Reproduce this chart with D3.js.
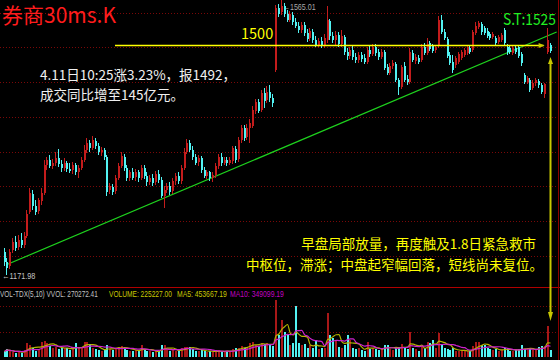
<!DOCTYPE html>
<html>
<head>
<meta charset="utf-8">
<script src="https://cdn.jsdelivr.net/npm/d3@7"></script>
<style>
    body { margin: 0; background: #000; }
    svg { display: block; }
    text { font-family: "Noto Sans CJK SC", "Noto Sans", sans-serif; }
</style>
</head>
<body>
<div id="k-chart"></div>
<script>
// 30 minute candles, oldest first (last two are 4.11 morning)
const opens = [1204,1190,1184,1207,1219,1211,1221,1214,1227,1261,
    1287,1270,1263,1277,1289,1329,1336,1327,1331,1339,
    1330,1324,1331,1323,1321,1329,1319,1324,1336,1350,
    1360,1353,1363,1356,1347,1350,1340,1293,1297,1291,
    1310,1327,1340,1324,1310,1319,1311,1319,1310,1324,
    1313,1304,1310,1304,1316,1307,1284,1293,1299,1291,
    1306,1313,1306,1324,1347,1360,1350,1340,1333,1339,
    1321,1313,1319,1310,1314,1327,1340,1331,1336,1331,
    1334,1351,1337,1364,1381,1369,1381,1384,1406,1419,
    1407,1431,1421,1433,1424,1464,1553,1547,1556,1544,
    1536,1543,1533,1527,1521,1529,1517,1510,1519,1507,
    1500,1506,1499,1507,1534,1513,1507,1514,1501,1511,
    1490,1484,1493,1483,1479,1486,1481,1476,1493,1487,
    1497,1490,1483,1490,1469,1460,1470,1473,1450,1440,
    1470,1451,1447,1489,1477,1481,1479,1497,1489,1503,
    1499,1493,1499,1536,1519,1509,1486,1476,1471,1476,
    1481,1486,1489,1496,1493,1517,1526,1530,1524,1520,
    1516,1511,1510,1504,1507,1521,1497,1496,1489,1496,
    1497,1487,1457,1447,1450,1439,1446,1449,1443,1430,
    1490,1500];
const highs = [1210,1196,1209,1224,1227,1229,1231,1233,1264,1296,
    1293,1279,1281,1296,1336,1340,1343,1337,1347,1351,
    1336,1339,1334,1331,1333,1331,1329,1340,1357,1367,
    1364,1370,1367,1360,1354,1353,1343,1303,1301,1314,
    1331,1347,1344,1329,1321,1324,1323,1321,1329,1329,
    1319,1314,1316,1320,1321,1311,1299,1303,1304,1310,
    1317,1319,1329,1353,1366,1364,1356,1344,1343,1341,
    1326,1321,1320,1319,1331,1344,1346,1340,1340,1340,
    1356,1356,1369,1386,1386,1387,1394,1413,1423,1423,
    1436,1439,1441,1443,1430,1557,1559,1565.01,1560,1550,
    1549,1547,1539,1533,1533,1533,1523,1524,1523,1513,
    1510,1511,1516,1556,1537,1519,1520,1519,1521,1514,
    1496,1497,1499,1489,1490,1490,1487,1497,1500,1501,
    1501,1494,1494,1493,1473,1474,1479,1476,1453,1471,
    1476,1457,1496,1493,1487,1486,1501,1503,1510,1506,
    1501,1500,1541,1543,1523,1511,1490,1486,1484,1490,
    1493,1496,1500,1499,1521,1533,1534,1533,1527,1524,
    1519,1519,1513,1514,1517,1524,1501,1499,1499,1499,
    1500,1490,1460,1456,1453,1450,1453,1451,1446,1446,
    1524,1503];
const lows = [1184,1171.98,1180,1203,1206,1207,1210,1210,1224,1259,
    1264,1257,1259,1271,1286,1321,1324,1323,1327,1326,
    1319,1320,1319,1317,1316,1314,1310,1321,1333,1346,
    1347,1350,1351,1343,1341,1336,1284,1287,1286,1287,
    1307,1324,1320,1306,1306,1307,1306,1304,1307,1309,
    1299,1300,1299,1300,1303,1281,1267,1289,1286,1287,
    1300,1301,1301,1321,1344,1347,1336,1329,1327,1317,
    1310,1309,1306,1304,1310,1323,1327,1329,1327,1329,
    1330,1331,1333,1360,1363,1364,1360,1381,1401,1403,
    1404,1410,1417,1419,1411,1461,1540,1543,1540,1533,
    1533,1529,1524,1517,1517,1513,1504,1506,1503,1497,
    1497,1496,1496,1503,1507,1503,1499,1497,1497,1486,
    1479,1480,1479,1474,1474,1476,1473,1473,1483,1484,
    1484,1479,1480,1464,1457,1457,1466,1447,1429,1437,
    1447,1443,1444,1476,1473,1473,1476,1486,1486,1491,
    1489,1489,1496,1516,1507,1481,1471,1460,1467,1473,
    1479,1483,1486,1487,1490,1514,1523,1514,1514,1510,
    1507,1509,1500,1501,1504,1500,1486,1487,1486,1487,
    1481,1470,1444,1444,1433,1436,1441,1439,1430,1424,
    1487,1489];
const closes = [1190,1181,1204,1219,1210,1221,1214,1227,1259,1289,
    1270,1261,1279,1289,1329,1336,1327,1331,1339,1330,
    1324,1331,1323,1320,1329,1319,1324,1336,1350,1360,
    1353,1364,1356,1347,1350,1340,1290,1299,1290,1310,
    1327,1341,1324,1310,1319,1310,1319,1310,1324,1313,
    1304,1310,1303,1316,1307,1284,1293,1299,1290,1306,
    1313,1306,1324,1347,1360,1350,1340,1331,1339,1321,
    1313,1319,1310,1314,1327,1340,1331,1336,1331,1336,
    1353,1336,1364,1381,1367,1381,1389,1407,1419,1406,
    1431,1420,1433,1424,1417,1553,1544,1556,1544,1536,
    1544,1533,1527,1521,1529,1517,1509,1520,1507,1500,
    1506,1499,1510,1536,1513,1507,1514,1501,1513,1490,
    1484,1493,1483,1479,1486,1480,1476,1493,1487,1497,
    1489,1483,1490,1467,1460,1470,1474,1450,1440,1469,
    1450,1447,1490,1479,1483,1476,1497,1489,1501,1494,
    1491,1497,1536,1519,1510,1484,1474,1464,1481,1487,
    1490,1493,1497,1490,1519,1527,1531,1519,1517,1513,
    1510,1516,1503,1511,1514,1503,1490,1490,1496,1490,
    1484,1474,1447,1453,1436,1446,1450,1443,1433,1445,
    1507,1492];
// volume, thousands of lots
const volumes = [180,260,200,150,120,190,140,220,450,390,
    300,200,260,485,520,450,360,300,330,260,
    290,280,300,220,260,450,280,330,485,470,
    420,300,250,220,200,230,390,260,240,300,
    320,350,300,220,180,200,230,200,390,220,
    200,180,160,200,180,390,400,250,200,220,
    200,180,300,330,320,330,250,200,180,230,
    200,160,180,150,200,220,180,160,200,180,
    250,290,300,350,300,330,450,480,400,350,
    450,420,450,380,350,1840,700,1200,810,710,
    400,450,1650,450,380,420,300,390,300,550,
    260,280,300,1420,710,620,550,330,290,400,
    710,550,300,250,280,220,200,480,250,300,
    250,220,250,400,380,250,220,300,330,420,
    300,250,810,300,250,200,350,300,480,450,
    550,300,780,390,300,250,220,280,200,180,
    200,220,200,180,350,480,480,390,400,300,
    250,220,250,200,220,300,280,200,180,220,
    250,390,260,230,270,220,243,330,360,353,
    1000,225.2];

const priceGrid = [1546, 1496.5, 1447, 1397.5, 1347.5, 1298, 1248, 1198.5];
const volumeGrid = [809, 1650];
const refLevel = 1500;
// support line: [candle index, price]
const trendPoints = [[1, 1186], [193.5, 1518.6]];
const maPeriods = [5, 10];
const volumeLabels = ["VOL-TDX(5,10) VVOL: 270272.41", "VOLUME: 225227.00", "MA5: 453667.19", "MA10: 349099.19"];
const noteWhite = ["4.11日10:25涨3.23%，报1492，", "成交同比增至145亿元。"];
const noteYellow = ["早盘局部放量，再度触及1.8日紧急救市", "中枢位，滞涨；中盘起窄幅回落，短线尚未复位。"];

const UP = "#c41c1c", DOWN = "#52f2f2";

/**
 * squeezes a text horizontally so it takes the given width
 */
function fitWidth(sel, width) {
    sel.each(function () {
        let t = d3.select(this);
        let x = +t.attr("x"), y = +t.attr("y");
        let w = typeof width === "function" ? width(t.datum(), t.attr("data-i")) : width;
        let s = w / this.getComputedTextLength();
        t.attr("x", 0).attr("y", 0)
         .attr("transform", `translate(${x},${y}) scale(${s},1)`);
    });
}

class KLineChart {

    constructor() {
        this.n = opens.length;
        this.x = d3.scaleLinear().domain([0, this.n - 1]).range([3.5, 549.5]);
        this.y = d3.scaleLinear().domain([1171.4, 1564.3]).range([275, 0]);
        this.yVol = d3.scaleLinear().domain([0, 2200]).range([357, 289]);
        this.svg = d3.select("#k-chart").append("svg")
            .attr("width", 560)
            .attr("height", 360)
            .style("background", "#000");
    }

    // moving average of volume; uses what is available at the start
    movingAverage(period) {
        return volumes.map((v, i) => d3.mean(volumes.slice(Math.max(0, i - period + 1), i + 1)));
    }

    drawFrame() {
        let svg = this.svg;
        let g = svg.append("g").attr("shape-rendering", "crispEdges");

        g.selectAll("line.pgrid")
            .data(priceGrid)
            .join("line")
            .attr("x1", 0).attr("x2", 558)
            .attr("y1", d => Math.round(this.y(d)) + 0.5)
            .attr("y2", d => Math.round(this.y(d)) + 0.5)
            .attr("stroke", "#7a0808")
            .attr("stroke-dasharray", "1,2");

        g.selectAll("line.vgrid")
            .data(volumeGrid)
            .join("line")
            .attr("x1", 0).attr("x2", 558)
            .attr("y1", d => Math.round(this.yVol(d)) + 0.5)
            .attr("y2", d => Math.round(this.yVol(d)) + 0.5)
            .attr("stroke", "#7a0808")
            .attr("stroke-dasharray", "1,2");

        // panel divider and right border
        g.append("line").attr("x1", 0).attr("x2", 560).attr("y1", 287.5).attr("y2", 287.5)
            .attr("stroke", "#b00000");
        g.append("line").attr("x1", 558.5).attr("x2", 558.5).attr("y1", 0).attr("y2", 360)
            .attr("stroke", "#8a0000");
    }

    drawPrice() {
        let svg = this.svg;
        let data = d3.range(this.n).map(i => ({
            i: i, o: opens[i], h: highs[i], l: lows[i], c: closes[i]
        }));

        // extreme labels sit behind the candles
        let lowIdx = d3.minIndex(lows), highIdx = d3.maxIndex(highs);
        svg.append("text")
            .attr("x", this.x(lowIdx) - 4).attr("y", this.y(lows[lowIdx]) + 4)
            .attr("fill", "#c4c4c4").attr("font-size", 9)
            .style("font-family", "'Liberation Sans', Arial, sans-serif")
            .text("←" + lows[lowIdx].toFixed(2))
            .call(fitWidth, 33);
        svg.append("text")
            .attr("x", this.x(highIdx) + 2).attr("y", this.y(highs[highIdx]) + 10)
            .attr("fill", "#a8a8a8").attr("font-size", 9)
            .style("font-family", "'Liberation Sans', Arial, sans-serif")
            .text("←" + highs[highIdx].toFixed(2))
            .call(fitWidth, 33);

        // support line
        svg.append("line")
            .attr("x1", this.x(trendPoints[0][0])).attr("y1", this.y(trendPoints[0][1]))
            .attr("x2", this.x(trendPoints[1][0])).attr("y2", this.y(trendPoints[1][1]))
            .attr("stroke", "#1ed21e").attr("stroke-width", 1.2);

        let candles = svg.append("g").attr("shape-rendering", "crispEdges")
            .selectAll("g")
            .data(data)
            .join("g");

        candles.append("line")
            .attr("x1", d => Math.round(this.x(d.i)) + 0.5)
            .attr("x2", d => Math.round(this.x(d.i)) + 0.5)
            .attr("y1", d => this.y(d.h))
            .attr("y2", d => this.y(d.l))
            .attr("stroke", d => d.c >= d.o ? UP : DOWN);

        candles.append("rect")
            .attr("x", d => Math.round(this.x(d.i)))
            .attr("width", 2)
            .attr("y", d => this.y(Math.max(d.o, d.c)))
            .attr("height", d => Math.max(1, Math.abs(this.y(d.o) - this.y(d.c))))
            .attr("fill", d => d.c >= d.o ? UP : DOWN);

        // 1500 reference line with arrow
        let yRef = Math.round(this.y(refLevel)) + 0.5;
        svg.append("line")
            .attr("x1", this.x(39)).attr("x2", this.x(190) - 3)
            .attr("y1", yRef).attr("y2", yRef)
            .attr("stroke", "#ffff00").attr("stroke-width", 1.5);
        svg.append("path")
            .attr("d", `M${this.x(190) - 8},${yRef - 2.5}L${this.x(190) - 2},${yRef}L${this.x(190) - 8},${yRef + 2.5}Z`)
            .attr("fill", "#c8c800");
        svg.append("text")
            .attr("x", 241).attr("y", yRef - 7)
            .attr("fill", "#ffff00").attr("font-size", 14.5)
            .text(refLevel);
    }

    drawVolume() {
        let svg = this.svg;
        svg.append("g").attr("shape-rendering", "crispEdges")
            .selectAll("rect")
            .data(volumes)
            .join("rect")
            .attr("x", (d, i) => Math.round(this.x(i)))
            .attr("width", 2)
            .attr("y", d => this.yVol(d))
            .attr("height", d => this.yVol(0) - this.yVol(d))
            .attr("fill", (d, i) => closes[i] >= opens[i] ? "#a81818" : DOWN);

        let colours = ["#b4b400", "#cc22cc"];
        maPeriods.forEach((p, k) => {
            let ma = this.movingAverage(p);
            svg.append("path")
                .datum(ma)
                .attr("d", d3.line().x((d, i) => this.x(i) + 1).y(d => this.yVol(d)).curve(d3.curveMonotoneX))
                .attr("fill", "none")
                .attr("stroke", colours[k])
                .attr("stroke-width", 1.2);
        });

        // header row of the volume panel
        let pos = [[0, 98, "#c0c0c0"], [109, 63, "#c8c800"], [177, 50, "#c8c800"], [230, 54, "#c000c0"]];
        svg.selectAll("text.vol")
            .data(volumeLabels)
            .join("text")
            .attr("data-i", (d, i) => i)
            .attr("x", (d, i) => pos[i][0])
            .attr("y", 297)
            .attr("font-size", 8.5)
            .attr("fill", (d, i) => pos[i][2])
            .style("font-family", "'Liberation Sans', Arial, sans-serif")
            .text(d => d)
            .call(fitWidth, (d, i) => pos[i][1]);
    }

    drawNotes() {
        let svg = this.svg;
        svg.append("text")
            .attr("x", 2).attr("y", 23)
            .attr("fill", "#ff1c1c").attr("font-size", 21)
            .text("券商30ms.K");

        svg.append("text")
            .attr("x", 503).attr("y", 25)
            .attr("fill", "#22ee22").attr("font-size", 15.5)
            .text("S.T:1525")
            .call(fitWidth, 53);

        svg.selectAll("text.white")
            .data(noteWhite)
            .join("text")
            .attr("x", 40)
            .attr("y", (d, i) => 79.5 + i * 20)
            .attr("fill", "#f0f0f0").attr("font-size", 13.5)
            .text(d => d);

        svg.selectAll("text.yellow")
            .data(noteYellow)
            .join("text")
            .attr("x", (d, i) => i ? 543 : 536)
            .attr("y", (d, i) => 248.5 + i * 21)
            .attr("text-anchor", "end")
            .attr("fill", "#ffff00").attr("font-size", 13.5)
            .text(d => d);

        // vertical marker at the latest bar
        let xm = 550.5;
        svg.append("line")
            .attr("x1", xm).attr("x2", xm).attr("y1", 62).attr("y2", 314)
            .attr("stroke", "#c8c800").attr("stroke-width", 2);
        svg.append("path")
            .attr("d", `M${xm},57L${xm - 2.5},64L${xm + 2.5},64Z M${xm},321L${xm - 2.5},312L${xm + 2.5},312Z`)
            .attr("fill", "#c8c800");
    }
}

let chart = new KLineChart();
chart.drawFrame();
chart.drawVolume();
chart.drawPrice();
chart.drawNotes();
</script>
</body>
</html>
